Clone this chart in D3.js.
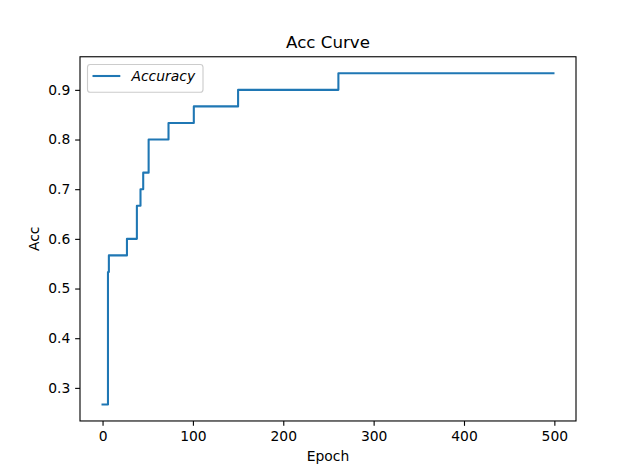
<!DOCTYPE html>
<html><head><meta charset="utf-8">
<script src="https://cdn.jsdelivr.net/npm/d3@7"></script>
<style>body{margin:0;background:#fff}svg{display:block}text{font-family:"DejaVu Sans",sans-serif;fill:#000}</style>
</head><body>
<svg id="c" width="640" height="473"></svg>
<script>
// Step change points of the accuracy curve (epoch where the value starts, value)
const stepEpochs = [0, 6, 7, 27, 38, 42, 45, 51, 73, 101, 150, 261, 499];
const accValues  = [0.2667, 0.5333, 0.5667, 0.6, 0.6667, 0.7, 0.7333, 0.8, 0.8333, 0.8667, 0.9, 0.9333, 0.9333];
const xTicks = [0, 100, 200, 300, 400, 500];
const yTicks = [0.3, 0.4, 0.5, 0.6, 0.7, 0.8, 0.9];
const title = "Acc Curve", xLabel = "Epoch", yLabel = "Acc", seriesName = "Accuracy";

const svg = d3.select("#c");
const L = 80, R = 576, T = 56.76, B = 420.97;
const data = stepEpochs.map((e, i) => ({e, v: accValues[i]}));
const xmin = d3.min(stepEpochs), xmax = d3.max(stepEpochs);
const ymin = d3.min(accValues), ymax = d3.max(accValues);
const xm = (xmax - xmin) * 0.05, ym = (ymax - ymin) * 0.05;
const x = d3.scaleLinear().domain([xmin - xm, xmax + xm]).range([L, R]);
const y = d3.scaleLinear().domain([ymin - ym, ymax + ym]).range([B, T]);

const line = d3.line().x(d => x(d.e)).y(d => y(d.v)).curve(d3.curveStepAfter);
svg.append("path").datum(data).attr("d", line)
  .attr("fill", "none").attr("stroke", "#1f77b4").attr("stroke-width", 2.08)
  .attr("stroke-linejoin", "round").attr("stroke-linecap", "square");

const fs = 13.89;
const xa = svg.append("g").attr("transform", `translate(0,${B})`)
  .call(d3.axisBottom(x).tickValues(xTicks).tickFormat(d3.format("d")).tickSize(4.86).tickPadding(4.86));
const ya = svg.append("g").attr("transform", `translate(${L},0)`)
  .call(d3.axisLeft(y).tickValues(yTicks).tickFormat(d3.format(".1f")).tickSize(4.86).tickPadding(4.86));
[xa, ya].forEach(a => {
  a.select(".domain").remove();
  a.selectAll(".tick line").attr("stroke", "#000").attr("stroke-width", 1.11);
  a.selectAll("text").attr("font-size", fs).attr("font-family", "DejaVu Sans").attr("fill", "#000");
});

svg.append("rect").attr("x", L).attr("y", T).attr("width", R - L).attr("height", B - T)
  .attr("fill", "none").attr("stroke", "#000").attr("stroke-width", 1.11);

svg.append("text").attr("x", (L + R) / 2).attr("y", 48.4).attr("text-anchor", "middle")
  .attr("font-size", 16.67).text(title);
svg.append("text").attr("x", (L + R) / 2).attr("y", 461).attr("text-anchor", "middle")
  .attr("font-size", fs).text(xLabel);
svg.append("text").attr("transform", `translate(39,${(T + B) / 2}) rotate(-90)`)
  .attr("text-anchor", "middle").attr("font-size", fs).text(yLabel);

// legend
const lg = svg.append("g");
lg.append("rect").attr("x", 87.5).attr("y", 64.5).attr("width", 115.5).attr("height", 27.8)
  .attr("rx", 2.8).attr("fill", "#fff").attr("fill-opacity", 0.8)
  .attr("stroke", "#cccccc").attr("stroke-width", 1.11);
lg.append("line").attr("x1", 92.5).attr("x2", 120.3).attr("y1", 76).attr("y2", 76)
  .attr("stroke", "#1f77b4").attr("stroke-width", 2.08);
lg.append("text").attr("x", 131.5).attr("y", 81).attr("font-size", fs)
  .attr("font-style", "italic").text(seriesName);
</script>
</body></html>
